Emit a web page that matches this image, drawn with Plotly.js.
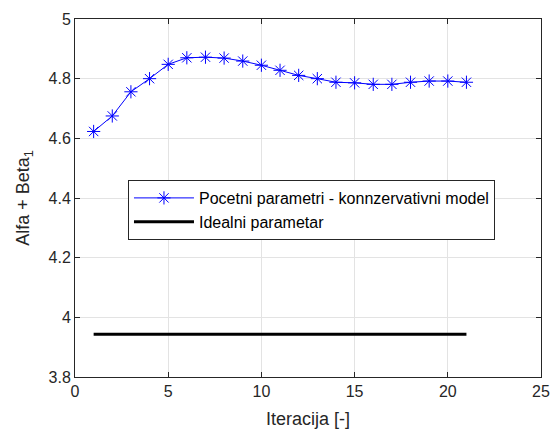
<!DOCTYPE html>
<html>
<head>
<meta charset="utf-8">
<script src="https://cdn.plot.ly/plotly-3.0.1.min.js"></script>
<style>html,body{margin:0;padding:0;background:#fff;}#plot{width:550px;height:432px;}</style>
</head>
<body>
<div id="plot"></div>
<script>
const iterations = [1,2,3,4,5,6,7,8,9,10,11,12,13,14,15,16,17,18,19,20,21];
const pocetniParametri = [4.623,4.675,4.756,4.800,4.848,4.870,4.872,4.869,4.859,4.845,4.828,4.811,4.800,4.788,4.786,4.781,4.781,4.788,4.792,4.792,4.788];
const idealniX = [1,21];
const idealniParametar = [3.943,3.943];
const xTicks = [0,5,10,15,20,25];
const yTicks = [3.8,4,4.2,4.4,4.6,4.8,5];
const yTickLabels = ['3.8','4','4.2','4.4','4.6','4.8','5'];

const axisColor = '#262626';
const gridColor = '#e3e3e3';
const fontFam = 'Liberation Sans, Arial, Helvetica, sans-serif';

const traces = [
  {
    x: iterations, y: pocetniParametri, type: 'scatter', mode: 'lines+markers',
    name: 'Pocetni parametri - konnzervativni model',
    line: {color: '#0000ff', width: 1},
    marker: {symbol: 'asterisk-open', size: 11, color: '#0000ff', line: {color: '#0000ff', width: 1}}
  },
  {
    x: idealniX, y: idealniParametar, type: 'scatter', mode: 'lines',
    name: 'Idealni parametar',
    line: {color: '#000000', width: 3}
  }
];

const layout = {
  width: 550, height: 432,
  margin: {l: 75, r: 9, t: 19, b: 55, pad: 0},
  paper_bgcolor: '#ffffff', plot_bgcolor: '#ffffff',
  font: {family: fontFam, size: 16, color: axisColor},
  showlegend: true,
  legend: {
    x: 0.1137, y: 0.5503, xanchor: 'left', yanchor: 'top',
    bgcolor: '#ffffff', bordercolor: axisColor, borderwidth: 1,
    font: {family: fontFam, size: 16, color: '#000000'},
    tracegroupgap: 0, itemwidth: 60
  },
  xaxis: {
    range: [0, 25], tickvals: xTicks, ticktext: xTicks.map(String),
    showgrid: true, gridcolor: gridColor, gridwidth: 1,
    zeroline: false, showline: true, linecolor: axisColor, linewidth: 1,
    mirror: 'allticks', ticks: 'inside', ticklen: 5, tickcolor: axisColor,
    tickfont: {size: 16, color: axisColor, family: fontFam},
    title: {text: 'Iteracija [-]', font: {size: 18, color: axisColor, family: fontFam}, standoff: 13}
  },
  yaxis: {
    range: [3.8, 5], tickvals: yTicks, ticktext: yTickLabels,
    showgrid: true, gridcolor: gridColor, gridwidth: 1,
    zeroline: false, showline: true, linecolor: axisColor, linewidth: 1,
    mirror: 'allticks', ticks: 'inside', ticklen: 5, tickcolor: axisColor,
    tickfont: {size: 16, color: axisColor, family: fontFam},
    title: {text: 'Alfa + Beta<sub>1</sub>', font: {size: 18, color: axisColor, family: fontFam}, standoff: 14}
  }
};

Plotly.newPlot('plot', traces, layout, {displayModeBar: false, staticPlot: true});
</script>
</body>
</html>
